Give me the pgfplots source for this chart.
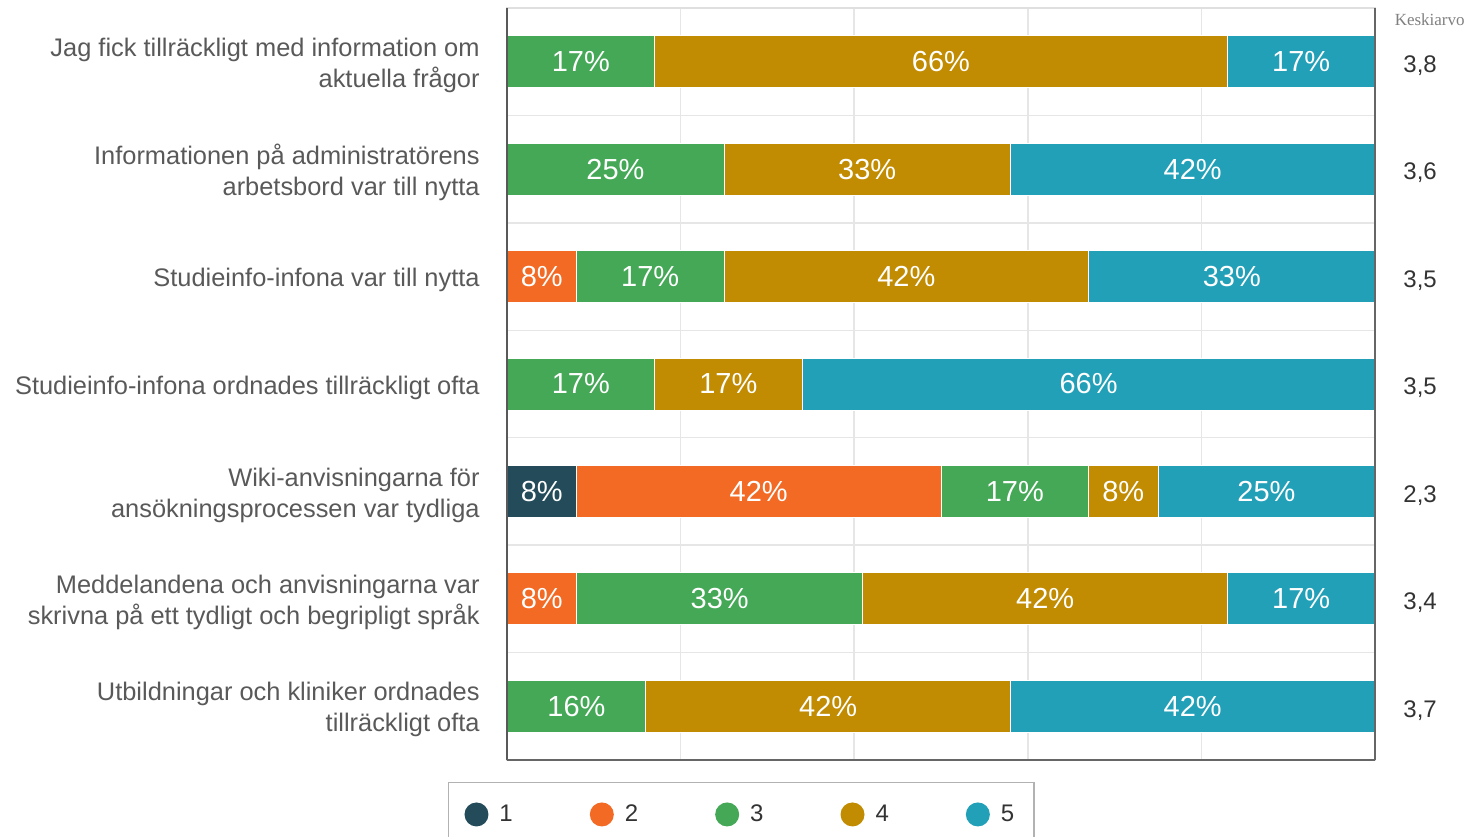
\documentclass[border=0pt]{standalone}
\usepackage{pgfplots}
\pgfplotsset{compat=1.18}
\usepackage{fontspec}
\setmainfont{Liberation Sans}
\newfontfamily\seriffont{Liberation Serif}
\definecolor{c1}{HTML}{234B5A}
\definecolor{c2}{HTML}{F26A24}
\definecolor{c3}{HTML}{44A857}
\definecolor{c4}{HTML}{C18B02}
\definecolor{c5}{HTML}{22A0B8}
\definecolor{gridc}{HTML}{E6E6E6}
\definecolor{labc}{HTML}{595959}
\definecolor{valc}{HTML}{333333}
\begin{document}
\begin{tikzpicture}
\useasboundingbox (0,0) rectangle (734pt,418pt);
\begin{axis}[
  at={(253.5pt,38pt)}, anchor=south west,
  scale only axis, width=434pt, height=376pt,
  xbar stacked, bar width=0.484,
  xmin=0, xmax=100, ymin=-0.5, ymax=6.5,
  y dir=reverse,
  ytick={0,...,6},
  yticklabels={
    {Jag fick tillräckligt med information om\\aktuella frågor},
    {Informationen på administratörens\\arbetsbord var till nytta},
    {Studieinfo-infona var till nytta},
    {Studieinfo-infona ordnades tillräckligt ofta},
    {Wiki-anvisningarna för\\ansökningsprocessen var tydliga},
    {Meddelandena och anvisningarna var\\skrivna på ett tydligt och begripligt språk},
    {Utbildningar och kliniker ordnades\\tillräckligt ofta}},
  yticklabel style={align=right, inner sep=0pt, xshift=-13.5pt, yshift=-1.8pt, text=labc,
    font=\fontsize{12.7}{15.5}\selectfont},
  minor ytick={0.5,1.5,...,5.5},
  xtick={0,20,...,100}, xticklabel=\empty,
  major tick length=0pt, minor tick length=0pt,
  xmajorgrids=true, ymajorgrids=false, yminorgrids=true,
  grid style={color=gridc, line width=0.75pt},
  minor grid style={color=gridc, line width=0.75pt},
  axis line style={draw=gray!25, line width=0.75pt},
  every axis plot/.append style={draw=white, line width=0.5pt},
  legend columns=5,
  legend style={at={(0.27,-0.029)}, anchor=north, draw=gray!60, line width=0.75pt,
    font=\fontsize{12}{14}\selectfont, text=valc, inner xsep=8pt, inner ysep=9pt,
    /tikz/every odd column/.append style={column sep=3.5pt},
    /tikz/every even column/.append style={column sep=36.5pt}},
  legend image code/.code={\fill[#1,draw=none] (0pt,0pt) circle (6pt);},
]
\addplot[fill=c1] coordinates {(0,0) (0,1) (0,2) (0,3) (8,4) (0,5) (0,6)};
\addplot[fill=c2] coordinates {(0,0) (0,1) (8,2) (0,3) (42,4) (8,5) (0,6)};
\addplot[fill=c3] coordinates {(17,0) (25,1) (17,2) (17,3) (17,4) (33,5) (16,6)};
\addplot[fill=c4] coordinates {(66,0) (33,1) (42,2) (17,3) (8,4) (42,5) (42,6)};
\addplot[fill=c5] coordinates {(17,0) (42,1) (33,2) (66,3) (25,4) (17,5) (42,6)};
\legend{1,2,3,4,5}
\end{axis}
\begin{axis}[
  at={(253.5pt,38pt)}, anchor=south west,
  scale only axis, width=434pt, height=376pt,
  xmin=0, xmax=100, ymin=-0.5, ymax=6.5,
  y dir=reverse, hide axis, clip=false,
]
\addplot[only marks, mark=none, nodes near coords, point meta=explicit symbolic,
  every node near coord/.append style={anchor=center, text=white, font=\fontsize{14.5}{16}\selectfont}]
  coordinates {
  (8.5,0) [17\%] (50,0) [66\%] (91.5,0) [17\%]
  (12.5,1) [25\%] (41.5,1) [33\%] (79,1) [42\%]
  (4,2) [8\%] (16.5,2) [17\%] (46,2) [42\%] (83.5,2) [33\%]
  (8.5,3) [17\%] (25.5,3) [17\%] (67,3) [66\%]
  (4,4) [8\%] (29,4) [42\%] (58.5,4) [17\%] (71,4) [8\%] (87.5,4) [25\%]
  (4,5) [8\%] (24.5,5) [33\%] (62,5) [42\%] (91.5,5) [17\%]
  (8,6) [16\%] (37,6) [42\%] (79,6) [42\%]
  };
\addplot[only marks, mark=none, nodes near coords, point meta=explicit symbolic,
  every node near coord/.append style={anchor=center, yshift=-2pt, text=valc, font=\fontsize{12}{14}\selectfont}]
  coordinates {
  (105.2,0) [{3,8}] (105.2,1) [{3,6}] (105.2,2) [{3,5}] (105.2,3) [{3,5}]
  (105.2,4) [{2,3}] (105.2,5) [{3,4}] (105.2,6) [{3,7}]
  };
\node[anchor=center, text=gray, font=\seriffont\fontsize{8.5}{10}\selectfont] at (axis cs:106.3,-0.39) {Keskiarvo};
\draw[color=black!65, line width=1pt] (axis cs:0,-0.5) -- (axis cs:0,6.5);
\draw[color=black!60, line width=0.75pt] (axis cs:0,6.5) -- (axis cs:100,6.5);
\draw[color=black!60, line width=0.75pt] (axis cs:100,-0.5) -- (axis cs:100,6.5);
\end{axis}
\end{tikzpicture}
\end{document}
